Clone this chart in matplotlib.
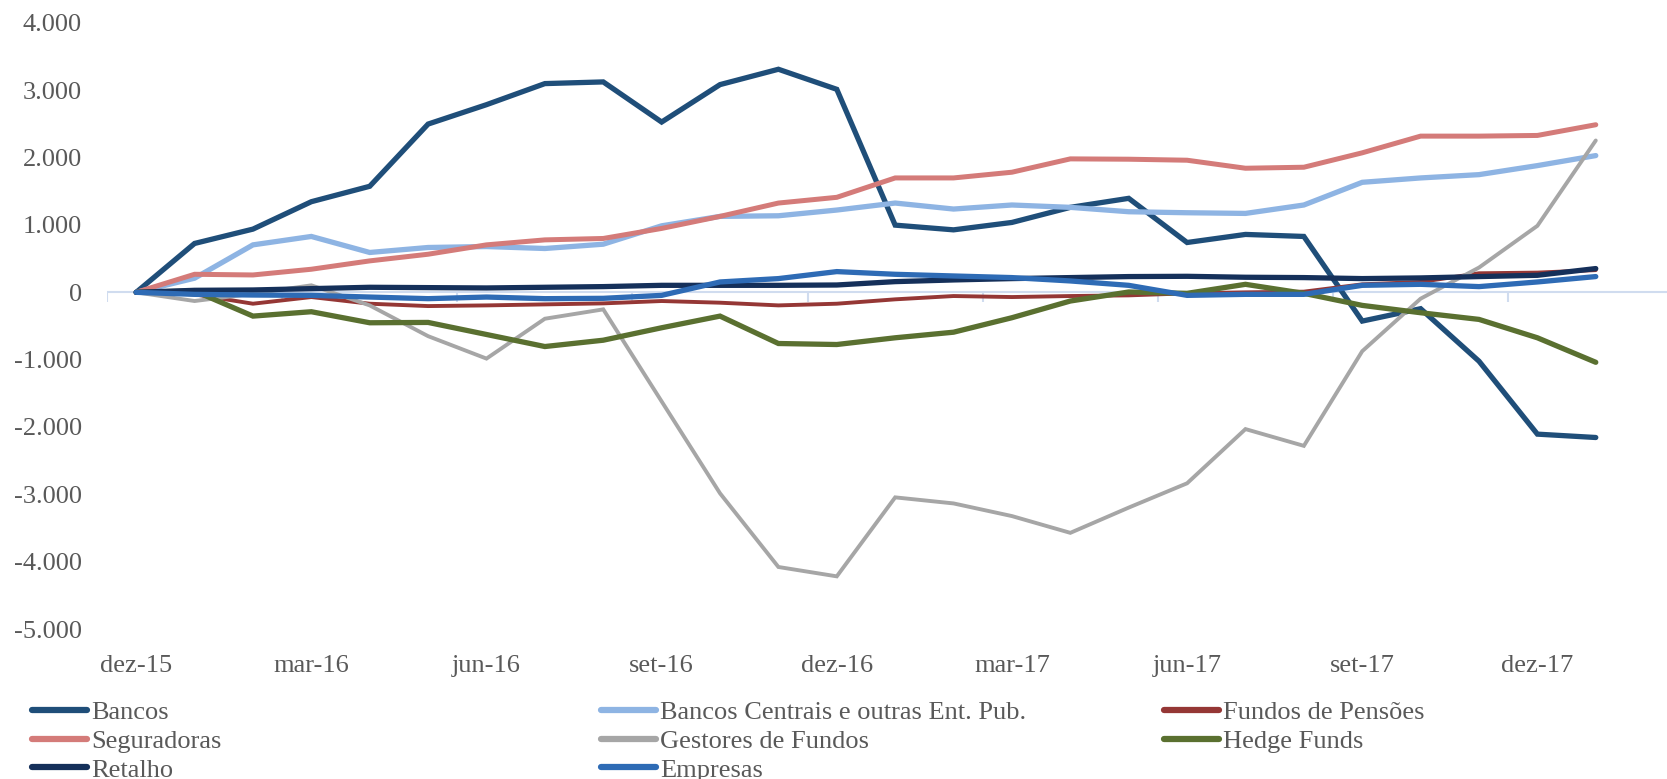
import numpy as np
import matplotlib.pyplot as plt

plt.rcParams['font.family'] = ['Liberation Serif', 'DejaVu Serif']

meses = ['dez-15', 'jan-16', 'fev-16', 'mar-16', 'abr-16', 'mai-16', 'jun-16', 'jul-16', 'ago-16',
         'set-16', 'out-16', 'nov-16', 'dez-16', 'jan-17', 'fev-17', 'mar-17', 'abr-17', 'mai-17',
         'jun-17', 'jul-17', 'ago-17', 'set-17', 'out-17', 'nov-17', 'dez-17', 'jan-18']

bancos = [0, 726, 939, 1346, 1575, 2499, 2787, 3100, 3125, 2529, 3085, 3313, 3015,
          998, 928, 1038, 1262, 1396, 740, 860, 830, -427, -243, -1023, -2106, -2156]
bancos_centrais = [0, 210, 705, 830, 592, 666, 680, 651, 715, 988, 1128, 1137, 1222,
                   1326, 1237, 1297, 1262, 1197, 1182, 1172, 1297, 1634, 1699, 1748, 1882, 2031]
fundos_pensoes = [0, -30, -169, -70, -169, -204, -194, -179, -164, -129, -154, -194, -169,
                  -104, -55, -70, -55, -45, -15, 0, 10, 119, 154, 283, 293, 330]
seguradoras = [0, 268, 258, 343, 467, 566, 705, 779, 800, 949, 1128, 1326, 1411,
               1699, 1699, 1784, 1982, 1977, 1962, 1843, 1858, 2072, 2320, 2320, 2330, 2489]
gestores = [0, -129, -20, 104, -194, -651, -984, -392, -253, -1620, -2985, -4079, -4218,
            -3045, -3135, -3323, -3572, -3197, -2836, -2031, -2280, -874, -94, 368, 988, 2255]
hedge_funds = [0, 20, -353, -288, -452, -447, -626, -805, -711, -526, -353, -760, -775,
               -675, -592, -377, -129, 5, -15, 119, -15, -194, -303, -402, -675, -1039]
retalho = [0, 30, 35, 55, 75, 70, 65, 75, 85, 104, 104, 104, 109,
           159, 184, 204, 219, 234, 238, 224, 219, 204, 214, 234, 253, 353]
empresas = [0, -30, -40, -45, -70, -94, -70, -94, -89, -45, 154, 204, 308,
            268, 243, 219, 169, 104, -45, -30, -30, 104, 119, 85, 154, 234]

series = [
    ('Bancos', bancos, '#1F4E79', 3.8),
    ('Bancos Centrais e outras Ent. Pub.', bancos_centrais, '#8EB4E3', 3.8),
    ('Fundos de Pensões', fundos_pensoes, '#953735', 2.8),
    ('Seguradoras', seguradoras, '#D47B79', 3.6),
    ('Gestores de Fundos', gestores, '#A6A6A6', 2.8),
    ('Hedge Funds', hedge_funds, '#5A7030', 3.8),
    ('Retalho', retalho, '#15305A', 3.8),
    ('Empresas', empresas, '#2E6BB5', 3.8),
]

fig = plt.figure(figsize=(16.67, 7.79), dpi=100)
ax = fig.add_axes([107 / 1667, 1 - 629 / 779, 1 - 107 / 1667, (629 - 23) / 779])

x = np.arange(len(meses))
handles = {}
for nome, vals, cor, lw in series:
    h, = ax.plot(x, vals, color=cor, lw=lw, solid_capstyle='round', solid_joinstyle='miter', label=nome)
    handles[nome] = h

# eixo horizontal no zero
ax.axhline(0, color='#D0DCEF', lw=1.5, zorder=0)
ax.vlines(np.arange(-0.5, len(meses), 3), -140, 0, color='#D0DCEF', lw=1.5, zorder=0)

ax.set_xlim(-0.5, 26.22)
ax.set_ylim(-5000, 4000)
ax.set_xticks(x[::3])
ax.set_xticklabels(meses[::3])
ax.set_yticks(range(-5000, 4001, 1000))
ax.set_yticklabels(['{:,}'.format(v).replace(',', '.') for v in range(-5000, 4001, 1000)])
ax.tick_params(length=0, labelsize=19, colors='#595959')
ax.tick_params(axis='x', pad=19)
ax.tick_params(axis='y', pad=18)
for s in ax.spines.values():
    s.set_visible(False)

cols = [['Bancos', 'Seguradoras', 'Retalho'],
        ['Bancos Centrais e outras Ent. Pub.', 'Gestores de Fundos', 'Empresas'],
        ['Fundos de Pensões', 'Hedge Funds']]
xs = [0.019, 0.3605, 0.698]
for nomes, x0 in zip(cols, xs):
    leg = fig.legend([handles[n] for n in nomes], nomes, loc='upper left',
                     bbox_to_anchor=(x0, 0.1005), frameon=False, fontsize=19,
                     handlelength=2.1, handletextpad=0.15, borderpad=0, borderaxespad=0,
                     labelspacing=0.2, labelcolor='#595959')
    for lh in leg.get_lines():
        lh.set_linewidth(4.5)
        lh.set_solid_capstyle('round')

fig.savefig('out.png', dpi=100)
